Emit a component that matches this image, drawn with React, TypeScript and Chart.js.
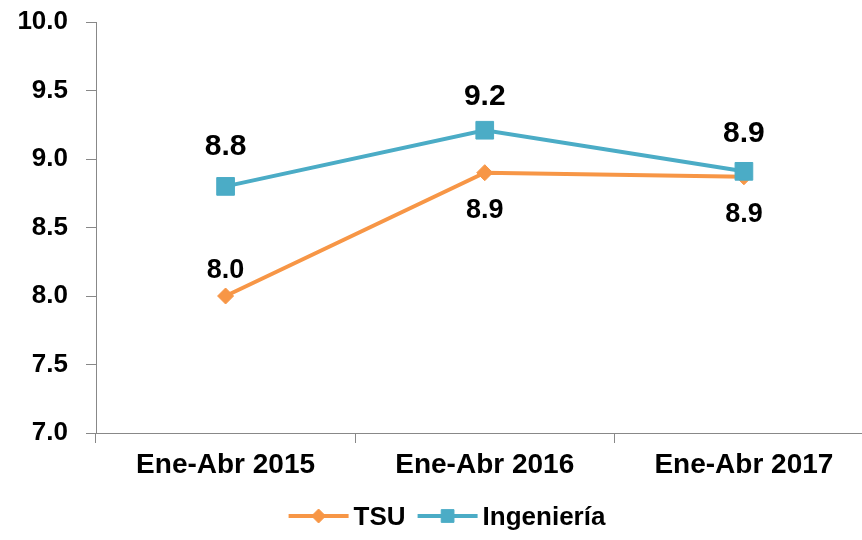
import React, { useEffect, useRef } from 'react';
import { Chart, registerables } from 'chart.js';

Chart.register(...registerables);

const categories = ['Ene-Abr 2015', 'Ene-Abr 2016', 'Ene-Abr 2017'];
const tsuValues = [8.0, 8.9, 8.87];
const ingValues = [8.8, 9.21, 8.91];
const yMin = 7.0;
const yMax = 10.0;
const yStep = 0.5;
const tsuLabelSide = ['above', 'below', 'below'];
const ingLabelSide = ['above', 'above', 'above'];

const FONT = '"Liberation Sans", Arial, Helvetica, sans-serif';
const ORANGE = '#F79646';
const BLUE = '#4BACC6';
const AXIS = '#888888';

const dataLabelsPlugin = {
  id: 'dataLabels',
  afterDatasetsDraw(chart: any) {
    const ctx = chart.ctx;
    chart.data.datasets.forEach((ds: any, i: number) => {
      const meta = chart.getDatasetMeta(i);
      ctx.save();
      ctx.font = `bold ${ds.labelSize}px ${FONT}`;
      ctx.fillStyle = '#000';
      ctx.textAlign = 'center';
      ctx.textBaseline = 'middle';
      meta.data.forEach((pt: any, j: number) => {
        const side = ds.labelSide[j];
        const off = side === 'above' ? -ds.labelAbove[j] : ds.labelBelow[j];
        ctx.fillText(Number(ds.data[j]).toFixed(1), pt.x, pt.y + off);
      });
      ctx.restore();
    });
  },
};

const legendPlugin = {
  id: 'customLegend',
  afterDraw(chart: any) {
    const ctx = chart.ctx;
    const order = [0, 1];
    const lineLen = 60;
    const gap = 5;
    const itemGap = 12;
    ctx.save();
    ctx.font = `bold 26px ${FONT}`;
    const widths = order.map((i) => lineLen + gap + ctx.measureText(chart.data.datasets[i].label).width);
    const total = widths.reduce((a: number, b: number) => a + b, 0) + itemGap * (order.length - 1);
    let x = 447 - total / 2;
    const y = 516;
    order.forEach((i, k) => {
      const ds = chart.data.datasets[i];
      ctx.strokeStyle = ds.borderColor;
      ctx.lineWidth = 4;
      ctx.beginPath();
      ctx.moveTo(x, y);
      ctx.lineTo(x + lineLen, y);
      ctx.stroke();
      const r = ds.pointStyle === 'rect' ? 9 : 7;
      ctx.fillStyle = ds.pointBackgroundColor;
      ctx.strokeStyle = ds.pointBorderColor;
      ctx.lineWidth = 1;
      ctx.beginPath();
      if (ds.pointStyle === 'rect') {
        const s = r * Math.SQRT1_2;
        ctx.rect(x + lineLen / 2 - s, y - s, 2 * s, 2 * s);
      } else {
        const cx = x + lineLen / 2;
        ctx.moveTo(cx, y - r);
        ctx.lineTo(cx + r, y);
        ctx.lineTo(cx, y + r);
        ctx.lineTo(cx - r, y);
        ctx.closePath();
      }
      ctx.fill();
      ctx.stroke();
      ctx.fillStyle = '#000';
      ctx.textAlign = 'left';
      ctx.textBaseline = 'middle';
      ctx.fillText(ds.label, x + lineLen + gap, y + 2);
      x += widths[k] + itemGap;
    });
    ctx.restore();
  },
};

export default function App() {
  const ref = useRef<HTMLCanvasElement | null>(null);

  useEffect(() => {
    if (!ref.current) return;
    const chart = new Chart(ref.current, {
      type: 'line',
      data: {
        labels: categories,
        datasets: [
          {
            label: 'TSU',
            data: tsuValues,
            borderColor: ORANGE,
            backgroundColor: ORANGE,
            pointBackgroundColor: ORANGE,
            pointBorderColor: ORANGE,
            pointStyle: 'rectRot',
            pointRadius: 8,
            pointBorderWidth: 1,
            borderWidth: 4,
            tension: 0,
            fill: false,
            order: 1,
            labelSide: tsuLabelSide,
            labelAbove: [25, 25, 25],
            labelBelow: [38, 38, 38],
            labelSize: 27,
          } as any,
          {
            label: 'Ingeniería',
            data: ingValues,
            borderColor: BLUE,
            backgroundColor: BLUE,
            pointBackgroundColor: BLUE,
            pointBorderColor: BLUE,
            pointStyle: 'rect',
            pointRadius: 12.5,
            pointBorderWidth: 1,
            borderWidth: 4,
            tension: 0,
            fill: false,
            order: 0,
            labelSide: ingLabelSide,
            labelAbove: [40, 33, 38],
            labelBelow: [38, 38, 38],
            labelSize: 30,
          } as any,
        ],
      },
      options: {
        animation: false,
        responsive: false,
        maintainAspectRatio: false,
        layout: { padding: { top: 22, right: 2, left: 0, bottom: 0 } },
        plugins: {
          legend: { display: false },
          tooltip: { enabled: false },
        },
        scales: {
          x: {
            offset: true,
            grid: {
              offset: true,
              drawOnChartArea: false,
              drawTicks: true,
              tickLength: 10,
              color: AXIS,
            },
            border: { color: AXIS, width: 1 },
            ticks: {
              color: '#000',
              font: { family: FONT, size: 28, weight: 'bold' },
              padding: 5,
              maxRotation: 0,
              autoSkip: false,
            },
            afterFit: (s: any) => {
              s.height = 107;
              s.paddingLeft = 0;
              s.paddingRight = 0;
            },
          },
          y: {
            min: yMin,
            max: yMax,
            grid: {
              drawOnChartArea: false,
              drawTicks: true,
              tickLength: 10,
              color: AXIS,
            },
            border: { color: AXIS, width: 1 },
            ticks: {
              stepSize: yStep,
              color: '#000',
              font: { family: FONT, size: 26, weight: 'bold' },
              padding: 18,
              callback: (v: any) => Number(v).toFixed(1),
            },
            afterFit: (s: any) => {
              s.width = 96;
              s.paddingTop = 0;
              s.paddingBottom = 0;
            },
          },
        },
      } as any,
      plugins: [dataLabelsPlugin, legendPlugin],
    });
    return () => chart.destroy();
  }, []);

  return (
    <div style={{ position: 'absolute', left: 0, top: 0, width: 862, height: 540, overflow: 'hidden', background: '#fff' }}>
      <div style={{ position: 'relative', width: 887, height: 540 }}>
        <canvas ref={ref} width={887} height={540} style={{ display: 'block', width: 887, height: 540 }} />
      </div>
    </div>
  );
}
